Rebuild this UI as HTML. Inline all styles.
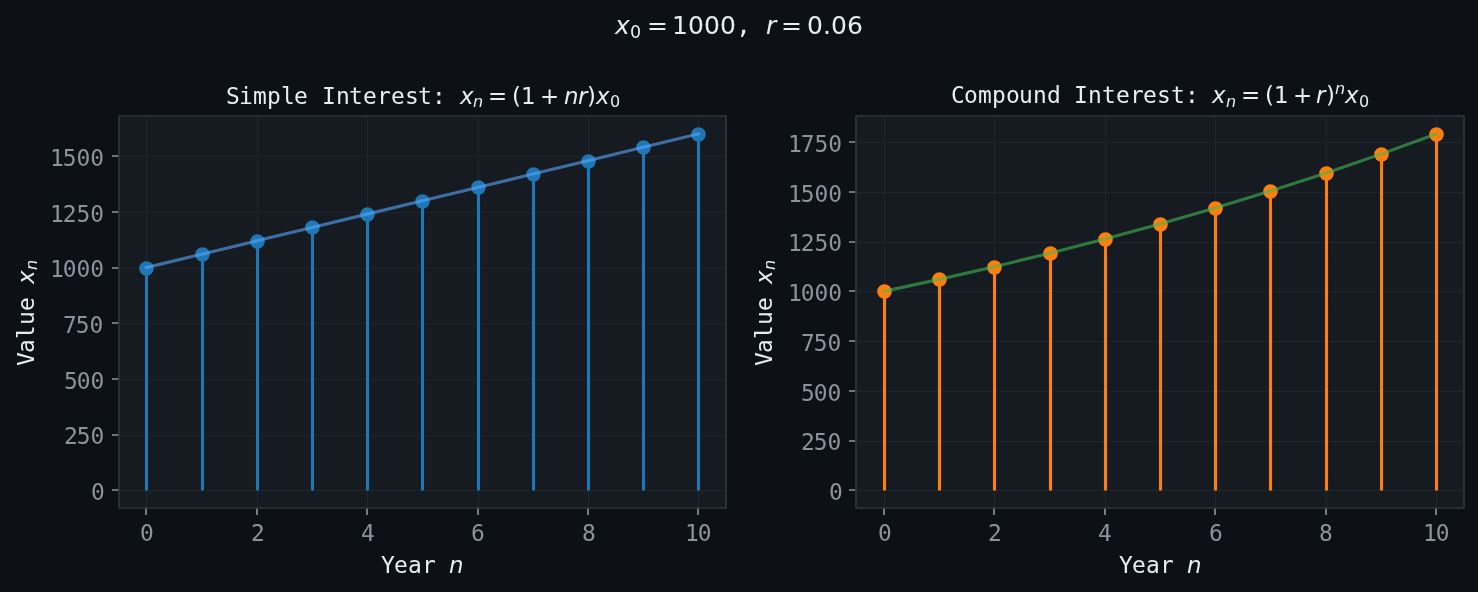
<!DOCTYPE html>
<html lang="en">
<head>
<meta charset="utf-8">
<title>Simple vs Compound Interest</title>
<style>
html,body{margin:0;padding:0;background:#0d1117;overflow:hidden}
svg{display:block}
text{white-space:pre}
.fig{fill:#0d1117}
.plot{fill:#161b22}
.grid{fill:none;stroke:#21262d;stroke-width:1.0417;stroke-linecap:square}
.tick{fill:none;stroke:#8b949e;stroke-width:1.6667}
.spine{fill:none;stroke:#30363d;stroke-width:1.6667;stroke-linecap:square}
.stem{fill:none;stroke-width:3.125}
.dot{stroke-width:2.0833}
.curve{fill:none;stroke-width:3.125;stroke-opacity:.6;stroke-linecap:square;stroke-linejoin:round}
.tl{font-family:"DejaVu Sans Mono","Liberation Mono",monospace;font-size:22.917px;fill:#8b949e}
.lbl,.ttl{font-size:22.917px;fill:#e6edf3}
.sup{font-size:25px;fill:#e6edf3}
.m{font-family:"DejaVu Sans Mono","Liberation Mono",monospace}
.r{font-family:"DejaVu Sans","Liberation Sans",sans-serif}
.i{font-family:"DejaVu Sans","Liberation Sans",sans-serif;font-style:oblique}
.lbl .s,.ttl .s{font-size:16.042px}
.sup .s{font-size:17.5px}
</style>
</head>
<body>
<svg width="1478" height="592" viewBox="0 0 1478 592" role="img" aria-label="Simple and compound interest stem plots">
<rect class="fig" x="0" y="0" width="1478" height="592"/>
<g class="axes" id="simple">
<clipPath id="clip0"><rect x="118.817" y="116.15" width="607.158" height="391.933"/></clipPath>
<rect class="plot" x="119" y="116" width="607" height="392"/>
<path class="grid" clip-path="url(#clip0)" d="M146.5 508.5L146.5 116.5M257.5 508.5L257.5 116.5M367.5 508.5L367.5 116.5M478.5 508.5L478.5 116.5M588.5 508.5L588.5 116.5M698.5 508.5L698.5 116.5M119.5 490.5L726.5 490.5M119.5 435.5L726.5 435.5M119.5 379.5L726.5 379.5M119.5 323.5L726.5 323.5M119.5 268.5L726.5 268.5M119.5 212.5L726.5 212.5M119.5 156.5L726.5 156.5"/>
<path class="tick" d="M146 508l0 7M257 508l0 7M367 508l0 7M478 508l0 7M588 508l0 7M698 508l0 7M119 490l-7 0M119 435l-7 0M119 379l-7 0M119 323l-7 0M119 268l-7 0M119 212l-7 0M119 156l-7 0"/>
<text class="tl" x="140" y="541">0</text>
<text class="tl" x="251" y="541">2</text>
<text class="tl" x="361" y="541">4</text>
<text class="tl" x="471" y="541">6</text>
<text class="tl" x="582" y="541">8</text>
<text class="tl" x="685 697.75" y="541">10</text>
<text class="tl" x="91" y="500">0</text>
<text class="tl" x="64 76.75 90.5" y="444">250</text>
<text class="tl" x="64 76.75 90.5" y="389">500</text>
<text class="tl" x="63 75.75 89.5" y="333">750</text>
<text class="tl" x="50 62.75 76.5 90.25" y="277">1000</text>
<text class="tl" x="50 62.75 76.5 90.25" y="222">1250</text>
<text class="tl" x="50 62.75 76.5 90.25" y="166">1500</text>
<text class="lbl" transform="translate(380 555)"><tspan class="m" x="1 14 28 42 56" y="18">Year </tspan><tspan class="i" x="69" y="18">n</tspan></text>
<text class="lbl" transform="translate(15 367) rotate(-90)"><tspan class="m" x="1 14 28 42 56 69" y="19">Value </tspan><tspan class="i" x="83" y="19">x</tspan><tspan class="i s" x="97" y="22">n</tspan></text>
<g clip-path="url(#clip0)">
<path class="stem" stroke="#1f77b4" d="M146.5 490.5V268.5M202.5 490.5V254.5M257.5 490.5V241.5M312.5 490.5V227.5M367.5 490.5V214.5M422.5 490.5V201.5M478.5 490.5V187.5M533.5 490.5V174.5M588.5 490.5V161.5M643.5 490.5V147.5M698.5 490.5V134.5"/>
<circle class="dot" fill="#1f77b4" stroke="#1f77b4" cx="146.5" cy="268.5" r="6.25"/>
<circle class="dot" fill="#1f77b4" stroke="#1f77b4" cx="202.5" cy="254.5" r="6.25"/>
<circle class="dot" fill="#1f77b4" stroke="#1f77b4" cx="257.5" cy="241.5" r="6.25"/>
<circle class="dot" fill="#1f77b4" stroke="#1f77b4" cx="312.5" cy="227.5" r="6.25"/>
<circle class="dot" fill="#1f77b4" stroke="#1f77b4" cx="367.5" cy="214.5" r="6.25"/>
<circle class="dot" fill="#1f77b4" stroke="#1f77b4" cx="422.5" cy="201.5" r="6.25"/>
<circle class="dot" fill="#1f77b4" stroke="#1f77b4" cx="478.5" cy="187.5" r="6.25"/>
<circle class="dot" fill="#1f77b4" stroke="#1f77b4" cx="533.5" cy="174.5" r="6.25"/>
<circle class="dot" fill="#1f77b4" stroke="#1f77b4" cx="588.5" cy="161.5" r="6.25"/>
<circle class="dot" fill="#1f77b4" stroke="#1f77b4" cx="643.5" cy="147.5" r="6.25"/>
<circle class="dot" fill="#1f77b4" stroke="#1f77b4" cx="698.5" cy="134.5" r="6.25"/>
<polyline class="curve" stroke="#58a6ff" points="146.415,267.579 201.611,254.217 256.807,240.856 312.003,227.495 367.2,214.133 422.396,200.772 477.592,187.411 532.788,174.049 587.984,160.688 643.181,147.327 698.377,133.965"/>
</g>
<path class="spine" d="M119 508L119 116M726 508L726 116M119 508L726 508M119 116L726 116"/>
<text class="ttl" transform="translate(225 85)"><tspan class="m" x="1 14 28 42 56 69 83 97 111 124 138 152 166 180 193 207 221" y="19">Simple Interest: </tspan><tspan class="i" x="235" y="19">x</tspan><tspan class="i s" x="248" y="22">n</tspan><tspan class="r" x="263 287 296 315" y="19">=(1+</tspan><tspan class="i" x="339 353" y="19">nr</tspan><tspan class="r" x="362" y="19">)</tspan><tspan class="i" x="371" y="19">x</tspan><tspan class="r s" x="385" y="22">0</tspan></text>
</g>
<g class="axes" id="compound">
<clipPath id="clip1"><rect x="856.442" y="116.15" width="607.158" height="391.933"/></clipPath>
<rect class="plot" x="856" y="116" width="608" height="392"/>
<path class="grid" clip-path="url(#clip1)" d="M884.5 508.5L884.5 116.5M994.5 508.5L994.5 116.5M1105.5 508.5L1105.5 116.5M1215.5 508.5L1215.5 116.5M1326.5 508.5L1326.5 116.5M1436.5 508.5L1436.5 116.5M856.5 490.5L1464.5 490.5M856.5 441.5L1464.5 441.5M856.5 391.5L1464.5 391.5M856.5 341.5L1464.5 341.5M856.5 291.5L1464.5 291.5M856.5 242.5L1464.5 242.5M856.5 192.5L1464.5 192.5M856.5 142.5L1464.5 142.5"/>
<path class="tick" d="M884 508l0 7M994 508l0 7M1105 508l0 7M1215 508l0 7M1326 508l0 7M1436 508l0 7M856 490l-7 0M856 441l-7 0M856 391l-7 0M856 341l-7 0M856 291l-7 0M856 242l-7 0M856 192l-7 0M856 142l-7 0"/>
<text class="tl" x="878" y="541">0</text>
<text class="tl" x="988" y="541">2</text>
<text class="tl" x="1098" y="541">4</text>
<text class="tl" x="1209" y="541">6</text>
<text class="tl" x="1319" y="541">8</text>
<text class="tl" x="1423 1435.75" y="541">10</text>
<text class="tl" x="829" y="500">0</text>
<text class="tl" x="801 813.75 827.5" y="450">250</text>
<text class="tl" x="801 813.75 827.5" y="401">500</text>
<text class="tl" x="801 813.75 827.5" y="351">750</text>
<text class="tl" x="788 800.75 814.5 828.25" y="301">1000</text>
<text class="tl" x="788 800.75 814.5 828.25" y="251">1250</text>
<text class="tl" x="788 800.75 814.5 828.25" y="202">1500</text>
<text class="tl" x="788 800.75 814.5 828.25" y="152">1750</text>
<text class="lbl" transform="translate(1118 555)"><tspan class="m" x="1 14 28 42 56" y="18">Year </tspan><tspan class="i" x="69" y="18">n</tspan></text>
<text class="lbl" transform="translate(753 367) rotate(-90)"><tspan class="m" x="1 14 28 42 56 69" y="19">Value </tspan><tspan class="i" x="83" y="19">x</tspan><tspan class="i s" x="97" y="22">n</tspan></text>
<g clip-path="url(#clip1)">
<path class="stem" stroke="#ff7f0e" d="M884.5 490.5V291.5M939.5 490.5V279.5M994.5 490.5V267.5M1050.5 490.5V253.5M1105.5 490.5V239.5M1160.5 490.5V224.5M1215.5 490.5V208.5M1270.5 490.5V191.5M1326.5 490.5V173.5M1381.5 490.5V154.5M1436.5 490.5V134.5"/>
<circle class="dot" fill="#ff7f0e" stroke="#ff7f0e" cx="884.5" cy="291.5" r="6.25"/>
<circle class="dot" fill="#ff7f0e" stroke="#ff7f0e" cx="939.5" cy="279.5" r="6.25"/>
<circle class="dot" fill="#ff7f0e" stroke="#ff7f0e" cx="994.5" cy="267.5" r="6.25"/>
<circle class="dot" fill="#ff7f0e" stroke="#ff7f0e" cx="1050.5" cy="253.5" r="6.25"/>
<circle class="dot" fill="#ff7f0e" stroke="#ff7f0e" cx="1105.5" cy="239.5" r="6.25"/>
<circle class="dot" fill="#ff7f0e" stroke="#ff7f0e" cx="1160.5" cy="224.5" r="6.25"/>
<circle class="dot" fill="#ff7f0e" stroke="#ff7f0e" cx="1215.5" cy="208.5" r="6.25"/>
<circle class="dot" fill="#ff7f0e" stroke="#ff7f0e" cx="1270.5" cy="191.5" r="6.25"/>
<circle class="dot" fill="#ff7f0e" stroke="#ff7f0e" cx="1326.5" cy="173.5" r="6.25"/>
<circle class="dot" fill="#ff7f0e" stroke="#ff7f0e" cx="1381.5" cy="154.5" r="6.25"/>
<circle class="dot" fill="#ff7f0e" stroke="#ff7f0e" cx="1436.5" cy="134.5" r="6.25"/>
<polyline class="curve" stroke="#3fb950" points="884.04,291.31 939.236,279.373 994.432,266.719 1049.628,253.306 1104.825,239.089 1160.021,224.018 1215.217,208.043 1270.413,191.109 1325.609,173.16 1380.806,154.133 1436.002,133.965"/>
</g>
<path class="spine" d="M856 508L856 116M1464 508L1464 116M856 508L1464 508M856 116L1464 116"/>
<text class="ttl" transform="translate(950 84)"><tspan class="m" x="1 14 28 42 56 69 83 97 111 124 138 152 166 180 193 207 221 235 248" y="19">Compound Interest: </tspan><tspan class="i" x="262" y="19">x</tspan><tspan class="i s" x="276" y="23">n</tspan><tspan class="r" x="291 315 324 343" y="19">=(1+</tspan><tspan class="i" x="366" y="19">r</tspan><tspan class="r" x="376" y="19">)</tspan><tspan class="i s" x="385" y="10">n</tspan><tspan class="i" x="395" y="19">x</tspan><tspan class="r s" x="409" y="23">0</tspan></text>
</g>
<text class="sup" transform="translate(614 15)"><tspan class="i" x="1" y="19">x</tspan><tspan class="r s" x="16" y="23">0</tspan><tspan class="r" x="33 58 74 90 106" y="19">=1000</tspan><tspan class="m" x="122 137" y="19">, </tspan><tspan class="i" x="152" y="19">r</tspan><tspan class="r" x="167 193 209 217 233" y="19">=0.06</tspan></text>
</svg>
</body>
</html>
